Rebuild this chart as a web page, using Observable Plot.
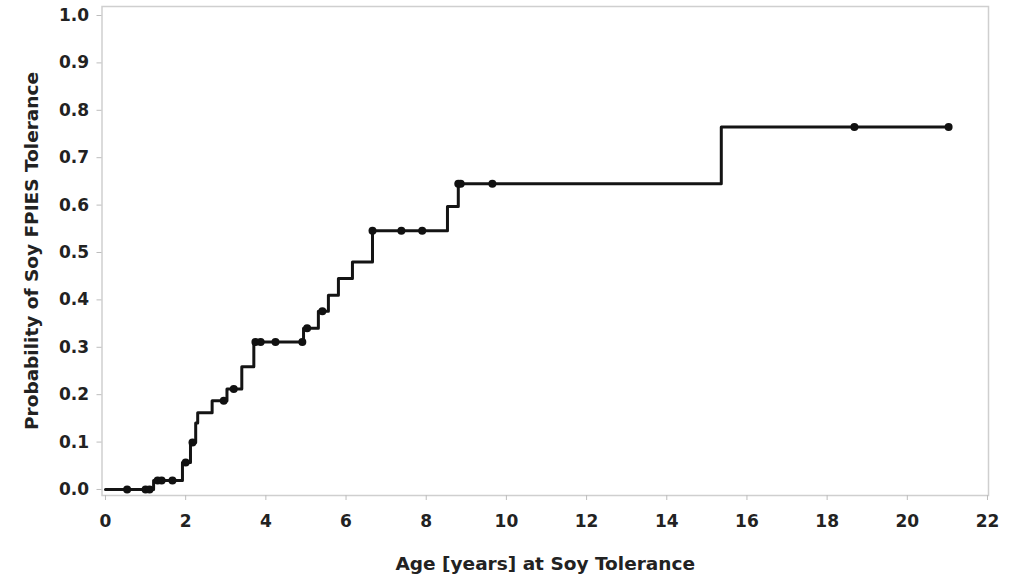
<!DOCTYPE html>
<html><head><meta charset="utf-8">
<script src="https://cdn.jsdelivr.net/npm/d3@7"></script>
<script src="https://cdn.jsdelivr.net/npm/@observablehq/plot@0.6"></script>
<style>body{margin:0;background:#fff}</style>
</head><body><div id="chart"></div>
<script>
// Kaplan-Meier step curve: event times (years) and cumulative probability after each step
const stepTimes  = [0, 1.2, 1.92, 2.12, 2.25, 2.3, 2.66, 3.03, 3.4, 3.7, 4.94, 5.31, 5.56, 5.81, 6.16, 6.66, 8.53, 8.8, 15.36, 21.03];
const stepValues = [0, 0.019, 0.057, 0.099, 0.14, 0.162, 0.187, 0.212, 0.259, 0.311, 0.34, 0.376, 0.41, 0.445, 0.48, 0.546, 0.597, 0.645, 0.765, 0.765];
// censored observations
const censorTimes  = [0.54, 1.0, 1.1, 1.3, 1.4, 1.67, 2.0, 2.17, 2.95, 3.2, 3.74, 3.87, 4.24, 4.91, 5.03, 5.41, 6.66, 7.38, 7.9, 8.8, 8.86, 9.65, 18.68, 21.03];
const censorValues = [0, 0, 0, 0.019, 0.019, 0.019, 0.057, 0.099, 0.187, 0.212, 0.311, 0.311, 0.311, 0.311, 0.34, 0.376, 0.546, 0.546, 0.546, 0.645, 0.645, 0.645, 0.765, 0.765];
const xTicks = [0, 2, 4, 6, 8, 10, 12, 14, 16, 18, 20, 22];
const yTicks = [0, 0.1, 0.2, 0.3, 0.4, 0.5, 0.6, 0.7, 0.8, 0.9, 1.0];
const xTitle = "Age [years] at Soy Tolerance";
const yTitle = "Probability of Soy FPIES Tolerance";

const steps = stepTimes.map((t, i) => ({t, p: stepValues[i]}));
const censors = censorTimes.map((t, i) => ({t, p: censorValues[i]}));

const chart = Plot.plot({
  width: 1020, height: 580,
  marginLeft: 101.5, marginRight: 32, marginTop: 6, marginBottom: 85,
  style: {fontFamily: "'DejaVu Sans', sans-serif", fontWeight: "bold", background: "#fff", color: "#222"},
  x: {domain: [-0.087, 22.025]},
  y: {domain: [-0.0127, 1.019]},
  marks: [
    Plot.frame({stroke: "#cfcfcf", strokeWidth: 1.5}),
    Plot.axisX({ticks: xTicks, tickSize: 5, tickPadding: 14, fontSize: 17, stroke: "#bdbdbd", fill: "#222", label: null, tickFormat: d => String(d)}),
    Plot.axisY({ticks: yTicks, tickSize: 5, tickPadding: 8, fontSize: 17, stroke: "#bdbdbd", fill: "#222", label: null, tickFormat: d3.format(".1f")}),
    Plot.line(steps, {x: "t", y: "p", curve: "step-after", stroke: "#141414", strokeWidth: 3}),
    Plot.dot(censors, {x: "t", y: "p", r: 4, fill: "#111", stroke: "none"}),
    Plot.text([xTitle], {text: d => d, frameAnchor: "bottom", dy: 74, fontSize: 18.5, fontWeight: "bold", fill: "#222"}),
    Plot.text([yTitle], {text: d => d, frameAnchor: "left", textAnchor: "middle", dx: -70, rotate: -90, fontSize: 18.5, fontWeight: "bold", fill: "#222"})
  ]
});
document.getElementById("chart").append(chart);
</script>
</body></html>
